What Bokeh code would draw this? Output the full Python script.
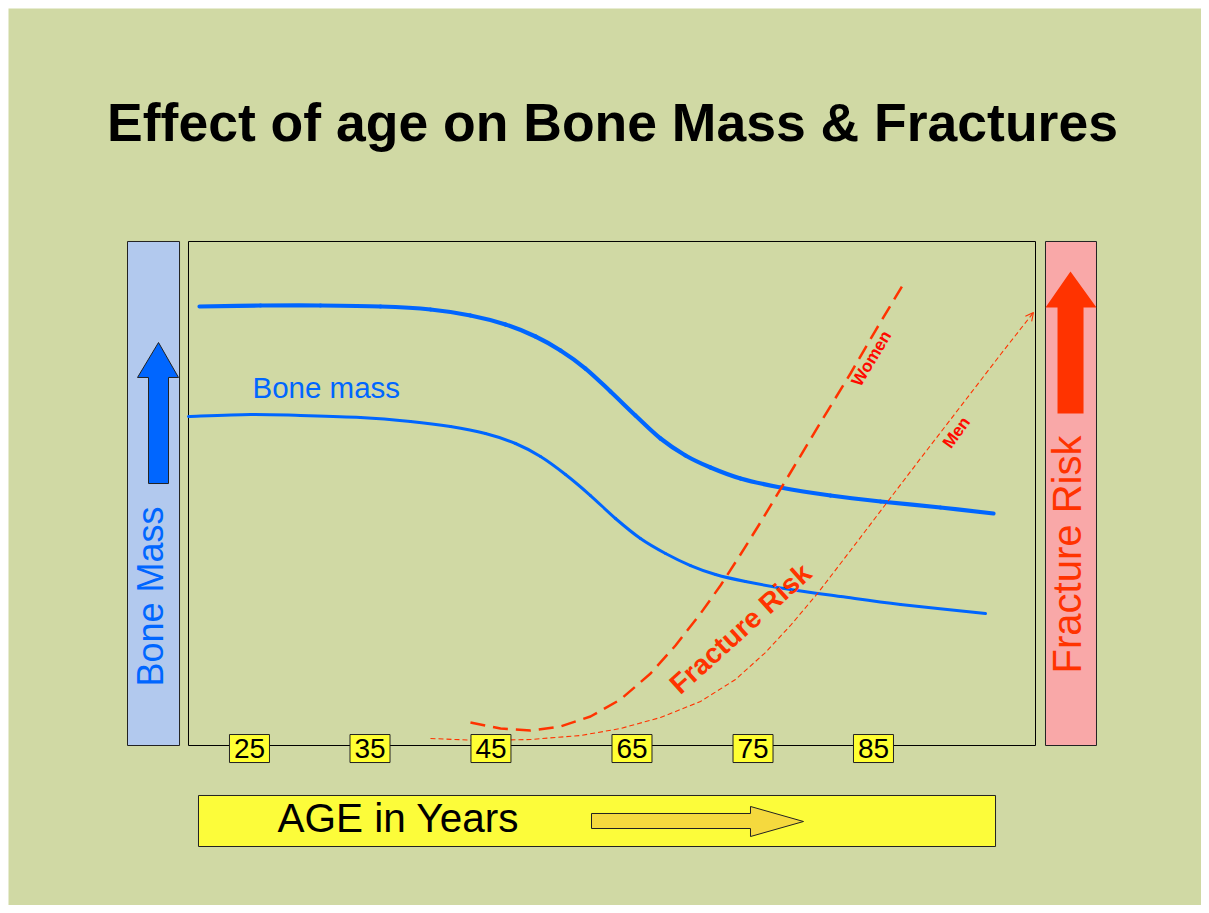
from bokeh.plotting import figure
from bokeh.models import Range1d, Arrow, OpenHead
from bokeh.core.properties import value
from bokeh.embed import file_html
from bokeh.resources import INLINE
import math

# ---------------- data (chart units: box spans x 0..100, y 0..100) ----------------
age_labels = ["25", "35", "45", "65", "75", "85"]
age_pos = [7.20, 21.43, 35.71, 52.36, 66.65, 80.87]

upper_x = [1.30, 8.50, 15.58, 22.67, 28.57, 33.29, 37.43, 40.97, 43.92, 46.87, 49.82,
           52.77, 55.73, 58.68, 61.63, 65.17, 69.89, 75.80, 81.70, 88.78, 95.04]
upper_y = [87.10, 87.30, 87.30, 87.10, 86.51, 85.32, 83.53, 81.15, 78.37, 74.80, 70.24,
           65.48, 60.91, 57.54, 55.16, 52.98, 51.19, 49.60, 48.41, 47.22, 46.03]

lower_x = [0.00, 7.32, 13.22, 20.31, 26.21, 30.93, 35.06, 38.61, 41.56, 44.51, 47.46,
           50.41, 53.36, 56.32, 59.27, 62.22, 65.76, 71.07, 76.98, 84.06, 94.10]
lower_y = [65.28, 65.67, 65.48, 65.08, 64.29, 63.29, 61.90, 59.92, 57.34, 53.77, 49.60,
           45.04, 41.07, 38.10, 35.71, 33.93, 32.54, 30.95, 29.56, 27.98, 26.19]

women_x = [33.29, 36.84, 40.38, 43.92, 47.46, 51.00, 54.55, 57.50, 60.45, 62.81, 65.17,
           67.53, 71.43, 74.62, 78.16, 81.11, 84.30]
women_y = [4.56, 3.37, 2.98, 3.77, 5.75, 9.13, 14.29, 19.84, 26.19, 31.75, 37.90,
           44.25, 55.16, 64.09, 73.81, 82.34, 91.27]

men_x = [28.57, 34.47, 40.38, 46.28, 51.00, 55.73, 60.45, 64.58, 68.12, 71.07, 74.26,
         78.16, 82.29, 86.42, 91.15, 95.87, 99.76]
men_y = [1.39, 0.99, 1.19, 1.98, 3.37, 5.56, 8.73, 13.10, 18.45, 23.81, 30.16,
         38.69, 47.82, 56.94, 67.26, 77.58, 85.91]

# ---------------- style ----------------
BG = "#D0D9A4"
BLUE = "#0066FF"
ORANGE = "#FF3300"
RED = "#FF0A00"
FONT = value("Liberation Sans")

p = figure(width=1201, height=905, output_backend="svg", toolbar_location=None, tools="",
           x_range=Range1d(-21.251, 119.598), y_range=Range1d(-31.746, 146.230),
           x_axis_location=None, y_axis_location=None,
           min_border_left=8, min_border_top=8, min_border_right=0, min_border_bottom=0)
p.background_fill_color = BG
p.border_fill_color = "white"
p.outline_line_color = None
p.xgrid.visible = False
p.ygrid.visible = False


def smooth(xs, ys, **kw):
    """Draw a smooth curve through the read points (Catmull-Rom as cubic Bezier segments)."""
    n = len(xs)
    x0, y0, x1, y1, cx0, cy0, cx1, cy1 = [], [], [], [], [], [], [], []
    for i in range(n - 1):
        pm = (xs[max(i - 1, 0)], ys[max(i - 1, 0)])
        pa = (xs[i], ys[i])
        pb = (xs[i + 1], ys[i + 1])
        pn = (xs[min(i + 2, n - 1)], ys[min(i + 2, n - 1)])
        x0.append(pa[0]); y0.append(pa[1]); x1.append(pb[0]); y1.append(pb[1])
        cx0.append(pa[0] + (pb[0] - pm[0]) / 6); cy0.append(pa[1] + (pb[1] - pm[1]) / 6)
        cx1.append(pb[0] - (pn[0] - pa[0]) / 6); cy1.append(pb[1] - (pn[1] - pa[1]) / 6)
    p.bezier(x0=x0, y0=y0, x1=x1, y1=y1, cx0=cx0, cy0=cy0, cx1=cx1, cy1=cy1, **kw)


# title
p.text(x=[50.06], y=[123.6], text=["Effect of age on Bone Mass & Fractures"],
       text_font=FONT, text_font_size="53.5px", text_font_style="bold",
       text_align="center", text_baseline="middle", text_color="black")

# left bar (Bone Mass)
p.quad(left=[-7.20], right=[-1.06], bottom=[0], top=[100], fill_color="#B2C9EE",
       line_color="#222222", line_width=1)
p.patch(x=[-4.72, -2.36, -2.36, -1.18, -3.54, -6.02, -4.72],
        y=[51.98, 51.98, 73.02, 73.02, 79.96, 73.02, 73.02],
        fill_color=BLUE, line_color="#222222", line_width=1)
p.text(x=[-4.49], y=[29.56], text=["Bone Mass"], angle=math.pi / 2,
       text_font=FONT, text_font_size="36px", text_align="center",
       text_baseline="middle", text_color=BLUE)

# right bar (Fracture Risk)
p.quad(left=[101.18], right=[107.20], bottom=[0], top=[100], fill_color="#F9A8A8",
       line_color="#222222", line_width=1)
p.patch(x=[102.60, 105.67, 105.67, 107.20, 104.13, 101.18, 102.60],
        y=[65.87, 65.87, 86.90, 86.90, 94.05, 86.90, 86.90],
        fill_color=ORANGE, line_color=None)
p.text(x=[103.66], y=[37.90], text=["Fracture Risk"], angle=math.pi / 2,
       text_font=FONT, text_font_size="40px", text_align="center",
       text_baseline="middle", text_color=ORANGE)

# main box
p.quad(left=[0], right=[100], bottom=[0], top=[100], fill_color=None,
       line_color="black", line_width=1)

# bone mass curves
smooth(upper_x, upper_y, line_color=BLUE, line_width=4.2, line_cap="round")
smooth(lower_x, lower_y, line_color=BLUE, line_width=3, line_cap="round")
p.text(x=[7.56], y=[71.03], text=["Bone mass"], text_font=FONT, text_font_size="29.5px",
       text_align="left", text_baseline="middle", text_color=BLUE)

# fracture risk curves
p.line(women_x, women_y, line_color=ORANGE, line_width=2.5, line_dash="15 8",
       line_join="round")
p.line(men_x, men_y, line_color=ORANGE, line_width=1.1, line_dash="5 3", line_join="round")
p.add_layout(Arrow(end=OpenHead(size=8, line_color=ORANGE, line_width=1.1),
                   x_start=men_x[-2], y_start=men_y[-2], x_end=men_x[-1], y_end=men_y[-1],
                   line_alpha=0))

p.text(x=[65.17], y=[23.21], text=["Fracture Risk"], angle=math.radians(42),
       text_font=FONT, text_font_size="28px", text_font_style="bold",
       text_align="center", text_baseline="middle", text_color=ORANGE)
p.text(x=[80.64], y=[76.79], text=["Women"], angle=math.radians(59),
       text_font=FONT, text_font_size="17px", text_font_style="bold",
       text_align="center", text_baseline="middle", text_color=RED)
p.text(x=[90.67], y=[62.10], text=["Men"], angle=math.radians(54),
       text_font=FONT, text_font_size="17px", text_font_style="bold",
       text_align="center", text_baseline="middle", text_color=RED)

# age tick boxes
tick_y = [-0.6] * len(age_pos)
p.rect(x=age_pos, y=tick_y, width=40, height=28, width_units="screen", height_units="screen",
       fill_color="#FFFF33", line_color="#222222", line_width=1)
p.text(x=age_pos, y=tick_y, text=age_labels, text_font=FONT, text_font_size="28px",
       text_align="center", text_baseline="middle", text_color="black")

# age bar
p.quad(left=[1.18], right=[95.28], bottom=[-20.04], top=[-9.92], fill_color="#FCFC3A",
       line_color="#222222", line_width=1)
p.text(x=[10.51], y=[-14.38], text=["AGE in Years"], text_font=FONT, text_font_size="40.5px",
       text_align="left", text_baseline="middle", text_color="black")
p.patch(x=[47.58, 66.35, 66.35, 72.61, 66.35, 66.35, 47.58],
        y=[-13.49, -13.49, -12.10, -15.08, -18.06, -16.47, -16.47],
        fill_color="#F5D93E", line_color="#222222", line_width=1)

open("out.html", "w").write(file_html(p, INLINE))
